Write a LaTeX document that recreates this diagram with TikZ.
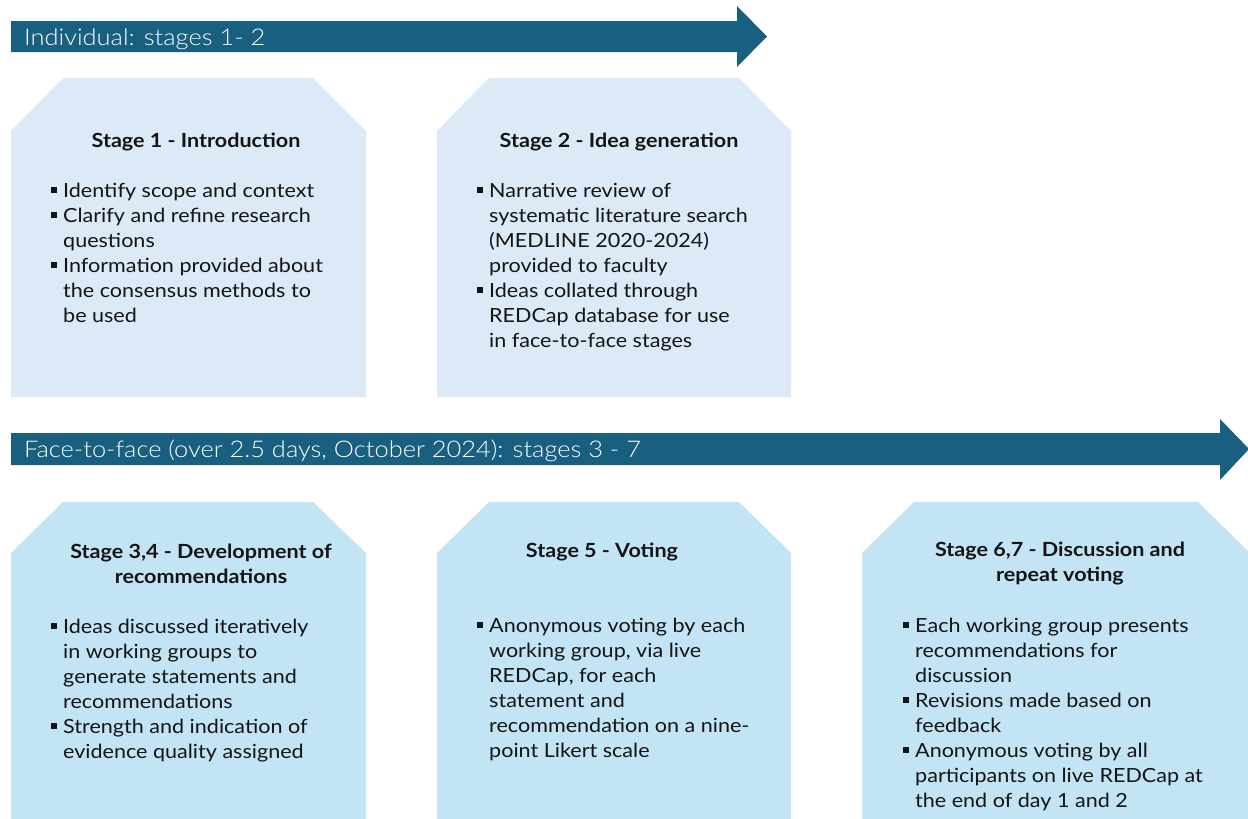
\documentclass[tikz,border=0pt]{standalone}
\usepackage{fontspec}
\setmainfont{Lato}[FakeStretch=1.105]
\newfontfamily\hdrfont{Lato}[UprightFont=* Light, FakeStretch=1.105]
\definecolor{arrowblue}{HTML}{185F80}
\definecolor{boxtop}{HTML}{DCE9F6}
\definecolor{boxbot}{HTML}{C2E4F5}
\definecolor{ink}{HTML}{141414}
\newcommand{\blt}{\makebox[12pt][l]{\rule[4pt]{6pt}{6pt}}}
\newcommand{\bodyfont}{\fontsize{19.5}{25}\selectfont}
\tikzset{
  hdr/.style={anchor=base west, inner sep=0pt, text=white, font=\hdrfont\fontsize{23}{28}\selectfont},
  ttl/.style={anchor=base, inner sep=0pt, text=ink, align=center, font=\bfseries\fontsize{19.5}{25.5}\selectfont},
  body/.style={anchor=base west, inner sep=0pt, text=ink, font=\bodyfont},
}
\begin{document}
\begin{tikzpicture}[x=1pt,y=-1pt]
\useasboundingbox (0,0) rectangle (1248,819);
% arrows
\fill[arrowblue] (11,21) -- (737,21) -- (737,6) -- (767,36.5) -- (737,67) -- (737,52) -- (11,52) -- cycle;
\fill[arrowblue] (11,433) -- (1220,433) -- (1220,419) -- (1249,449) -- (1220,480) -- (1220,465) -- (11,465) -- cycle;
\node[hdr] (h1) at (24,45) {Individual: stages 1- 2};
\node[hdr] (h2) at (24,457) {Face-to-face (over 2.5 days, October 2024): stages 3 - 7};
% boxes
\fill[boxtop] (11,131) -- (63,78) -- (313,78) -- (366,131) -- (366,397) -- (11,397) -- cycle;
\fill[boxtop] (437,131) -- (489,78) -- (739,78) -- (791,131) -- (791,397) -- (437,397) -- cycle;
\fill[boxbot] (11,553) -- (63,502) -- (313,502) -- (366,553) -- (366,822) -- (11,822) -- cycle;
\fill[boxbot] (437,553) -- (489,502) -- (739,502) -- (791,553) -- (791,822) -- (437,822) -- cycle;
\fill[boxbot] (862,553) -- (914,502) -- (1198,502) -- (1250,553) -- (1250,822) -- (862,822) -- cycle;
% titles
\node[ttl] (t1) at (196,147) {Stage 1 - Introduction};
\node[ttl] (t2) at (619,147) {Stage 2 - Idea generation};
\node[ttl] (t3) at (201,583.5) {Stage 3,4 - Development of\\recommendations};
\node[ttl] (t5) at (602,557) {Stage 5 - Voting};
\node[ttl] (t6) at (1060,581.5) {Stage 6,7 - Discussion and\\repeat voting};
% bodies
\node[body] (b1) at (51,197) {\begin{tabular}[t]{@{}l@{}l@{}}
\blt & Identify scope and context\\
\blt & Clarify and refine research\\
 & questions\\
\blt & Information provided about\\
 & the consensus methods to\\
 & be used
\end{tabular}};
\node[body] (b2) at (477,197) {\begin{tabular}[t]{@{}l@{}l@{}}
\blt & Narrative review of\\
 & systematic literature search\\
 & (MEDLINE 2020-2024)\\
 & provided to faculty\\
\blt & Ideas collated through\\
 & REDCap database for use\\
 & in face-to-face stages
\end{tabular}};
\node[body] (b3) at (51,633) {\begin{tabular}[t]{@{}l@{}l@{}}
\blt & Ideas discussed iteratively\\
 & in working groups to\\
 & generate statements and\\
 & recommendations\\
\blt & Strength and indication of\\
 & evidence quality assigned
\end{tabular}};
\node[body] (b5) at (477,632) {\begin{tabular}[t]{@{}l@{}l@{}}
\blt & Anonymous voting by each\\
 & working group, via live\\
 & REDCap, for each\\
 & statement and\\
 & recommendation on a nine-\\
 & point Likert scale
\end{tabular}};
\node[body] (b6) at (903,632) {\begin{tabular}[t]{@{}l@{}l@{}}
\blt & Each working group presents\\
 & recommendations for\\
 & discussion\\
\blt & Revisions made based on\\
 & feedback\\
\blt & Anonymous voting by all\\
 & participants on live REDCap at\\
 & the end of day 1 and 2
\end{tabular}};
\end{tikzpicture}
\end{document}
